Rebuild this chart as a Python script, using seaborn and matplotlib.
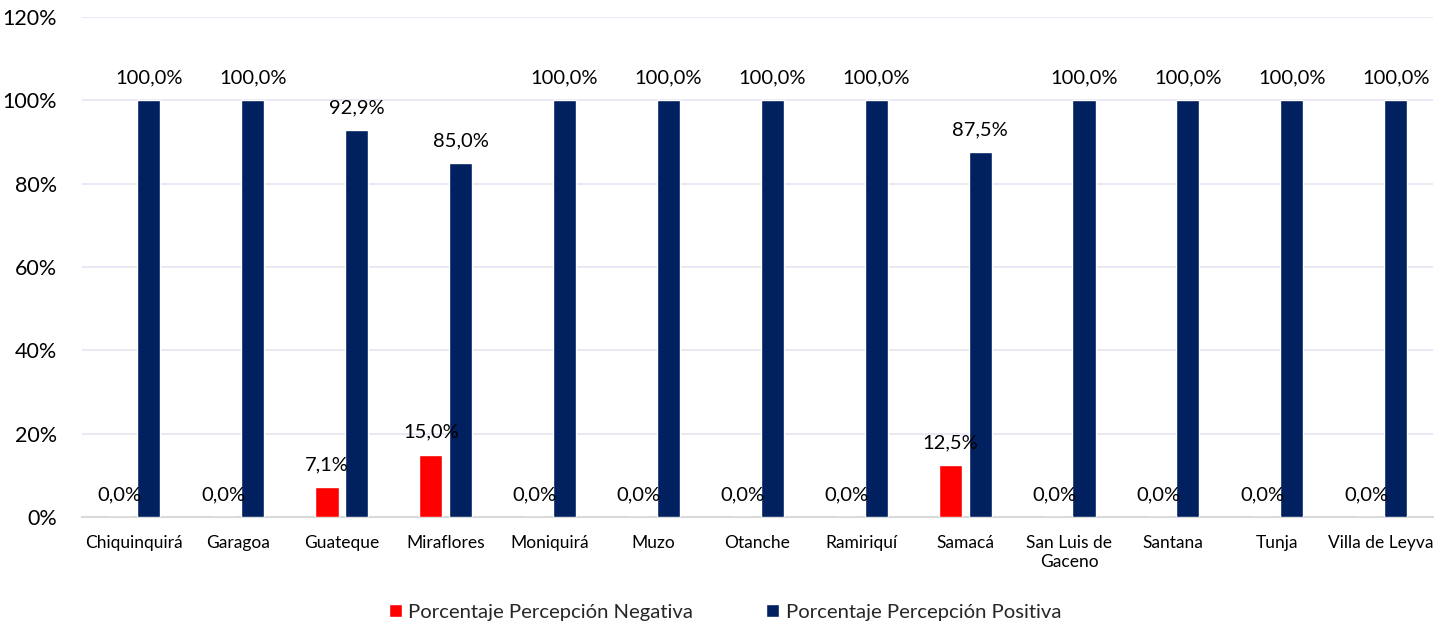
import matplotlib
matplotlib.use("Agg")
import matplotlib.pyplot as plt
import seaborn as sns
import pandas as pd

municipios = ["Chiquinquirá", "Garagoa", "Guateque", "Miraflores", "Moniquirá",
              "Muzo", "Otanche", "Ramiriquí", "Samacá", "San Luis de\nGaceno",
              "Santana", "Tunja", "Villa de Leyva"]
negativa = [0.0, 0.0, 7.1, 15.0, 0.0, 0.0, 0.0, 0.0, 12.5, 0.0, 0.0, 0.0, 0.0]
positiva = [100.0, 100.0, 92.9, 85.0, 100.0, 100.0, 100.0, 100.0, 87.5, 100.0, 100.0, 100.0, 100.0]
series = ["Porcentaje Percepción Negativa", "Porcentaje Percepción Positiva"]
colores = ["#FF0000", "#002060"]
yticks = [0, 20, 40, 60, 80, 100, 120]

df = pd.DataFrame({
    "municipio": municipios * 2,
    "serie": [series[0]] * len(municipios) + [series[1]] * len(municipios),
    "valor": negativa + positiva,
})

sns.set_theme(style="white")
plt.rcParams["font.family"] = ["Lato", "DejaVu Sans"]

fig = plt.figure(figsize=(14.5, 6.26), dpi=100)
ax = fig.add_axes([0.0566, 0.174, 0.9316, 0.799])

sns.barplot(data=df, x="municipio", y="valor", hue="serie", hue_order=series,
            palette=colores, width=0.57, gap=0.22, saturation=1,
            errorbar=None, ax=ax, zorder=3)

for cont, vals in zip(ax.containers, [negativa, positiva]):
    ax.bar_label(cont, labels=[f"{v:.1f}%".replace(".", ",") for v in vals],
                 padding=10, fontsize=14.5, color="black")

ax.set_ylim(0, 120)
ax.set_xlim(-0.5, len(municipios) - 0.5)
ax.set_yticks(yticks)
ax.set_yticklabels([f"{t}%" for t in yticks], fontsize=15.5, color="black")
ax.tick_params(axis="y", length=0, pad=18)
ax.tick_params(axis="x", length=0, pad=13, labelsize=12.5, labelcolor="black")
ax.set_xlabel("")
ax.set_ylabel("")
ax.yaxis.grid(True, color="#EAE5F3", linewidth=1.3, zorder=0)
ax.set_axisbelow(True)
for s in ["left", "right", "top"]:
    ax.spines[s].set_visible(False)
ax.spines["bottom"].set_color("#D9D9D9")
ax.spines["bottom"].set_linewidth(1.5)

handles, labels = ax.get_legend_handles_labels()
ax.get_legend().remove()
fig.legend(handles, labels, loc="center", bbox_to_anchor=(0.5, 0.022), ncol=2,
           frameon=False, fontsize=14.6, handlelength=0.65, handleheight=0.65,
           handletextpad=0.3, columnspacing=3.6)

fig.savefig("out.png", dpi=100)
